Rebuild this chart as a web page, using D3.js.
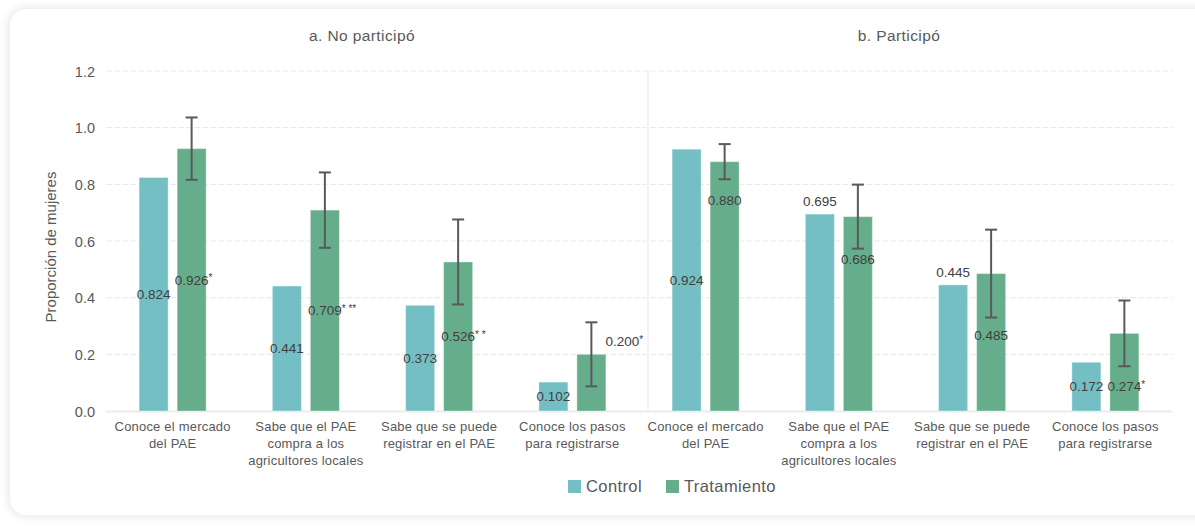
<!DOCTYPE html>
<html lang="es">
<head>
<meta charset="utf-8">
<script src="https://cdn.jsdelivr.net/npm/d3@7/dist/d3.min.js"></script>
<style>
  html, body { margin: 0; padding: 0; background: #ffffff; }
  body { width: 1195px; height: 529px; overflow: hidden; position: relative; }
  .card {
    position: absolute; left: 10px; top: 9px; width: 1205px; height: 506px;
    background: #fff; border-radius: 16px;
    box-shadow: 0 0 10px 2px rgba(0,0,0,0.09);
  }
  svg { position: absolute; left: 0; top: 0; }
  text { font-family: "Liberation Sans", Arial, sans-serif; }
</style>
</head>
<body>
<div class="card"></div>
<svg id="chart" width="1195" height="529"></svg>
<script>
// Panels and categories
const panels = ["a. No participó", "b. Participó"];
const categories = [
  ["Conoce el mercado", "del PAE"],
  ["Sabe que el PAE", "compra a los", "agricultores locales"],
  ["Sabe que se puede", "registrar en el PAE"],
  ["Conoce los pasos", "para registrarse"]
];
const seriesNames = ["Control", "Tratamiento"];

// Proportions per panel (4 categories each)
const controlA = [0.824, 0.441, 0.373, 0.102];
const treatA   = [0.926, 0.709, 0.526, 0.200];
const controlB = [0.924, 0.695, 0.445, 0.172];
const treatB   = [0.880, 0.686, 0.485, 0.274];

// Confidence interval half-widths for treatment
const errA = [0.110, 0.133, 0.150, 0.113];
const errB = [0.062, 0.113, 0.155, 0.116];

// Significance stars for treatment labels
const starsA = ["*", "* **", "* *", "*"];
const starsB = ["", "", "", "*"];

const yTicks = [0, 0.2, 0.4, 0.6, 0.8, 1.0, 1.2];

// Label placement: "mid" = centred in bar, "above" = over bar top,
// "right" = beside the error bar, number = pixel offset below bar top
const labelCtrlA = ["mid", "mid", "mid", "mid"];
const labelTrtA  = ["mid", "mid", "mid", "right"];
const labelCtrlB = ["mid", "above", "above", "mid"];
const labelTrtB  = [39, 43, 62, 53];

const colors = { Control: "#74bfc4", Tratamiento: "#66ae8b" };

const svg = d3.select("#chart");
const plotL = 106, plotR = 1172, plotT = 71, plotB = 411;

const keys = [];
panels.forEach((p, pi) => categories.forEach((c, ci) => keys.push(pi + "-" + ci)));

const x = d3.scaleBand().domain(keys).range([plotL, plotR]).paddingInner(0).paddingOuter(0);
const y = d3.scaleLinear().domain([0, 1.2]).range([plotB, plotT]);

// Gridlines
svg.append("g").selectAll("line").data(yTicks.filter(t => t > 0)).join("line")
  .attr("x1", plotL).attr("x2", plotR)
  .attr("y1", d => y(d)).attr("y2", d => y(d))
  .attr("stroke", "#ebebeb").attr("stroke-width", 1.2)
  .attr("stroke-dasharray", "6,2");

// Panel divider
svg.append("line")
  .attr("x1", x("1-0") + 9).attr("x2", x("1-0") + 9)
  .attr("y1", plotT).attr("y2", plotB)
  .attr("stroke", "#efefef").attr("stroke-width", 1.5);

// Baseline
svg.append("line").attr("x1", plotL).attr("x2", plotR)
  .attr("y1", y(0) + 0.5).attr("y2", y(0) + 0.5)
  .attr("stroke", "#ececec").attr("stroke-width", 2);

// Y axis
const yAxis = svg.append("g").attr("transform", `translate(${plotL - 8},0)`)
  .call(d3.axisLeft(y).tickValues(yTicks).tickFormat(d3.format(".1f")).tickSize(0));
yAxis.select(".domain").remove();
yAxis.selectAll("text")
  .attr("fill", "#595959").attr("font-size", 14.5).attr("dy", "0.35em");

svg.append("text")
  .attr("transform", `translate(56,${(plotT + plotB) / 2 + 6}) rotate(-90)`)
  .attr("text-anchor", "middle").attr("fill", "#595959").attr("font-size", 15)
  .text("Proporción de mujeres");

// Panel titles
const titleX = [362, 899];
panels.forEach((p, pi) => {
  svg.append("text").attr("x", titleX[pi]).attr("y", 41)
    .attr("text-anchor", "middle").attr("fill", "#595959").attr("font-size", 15.5)
    .attr("letter-spacing", 0.4)
    .text(p);
});

// Category labels
keys.forEach((k, i) => {
  const lines = categories[i % 4];
  const t = svg.append("text").attr("x", x(k) + x.bandwidth() / 2).attr("y", 431)
    .attr("text-anchor", "middle").attr("fill", "#595959").attr("font-size", 13)
    .attr("letter-spacing", 0.2);
  lines.forEach((ln, li) => t.append("tspan")
    .attr("x", x(k) + x.bandwidth() / 2).attr("dy", li === 0 ? 0 : 17).text(ln));
});

// Bars
const barW = 29, gap = 9;
const rows = [];
[[controlA, treatA, errA, starsA, labelCtrlA, labelTrtA],
 [controlB, treatB, errB, starsB, labelCtrlB, labelTrtB]].forEach((set, pi) => {
  const [ctrl, trt, err, stars, lc, lt] = set;
  for (let ci = 0; ci < 4; ci++) {
    const k = pi + "-" + ci;
    rows.push({ key: k, series: "Control", value: ctrl[ci], err: null, stars: "", place: lc[ci] });
    rows.push({ key: k, series: "Tratamiento", value: trt[ci], err: err[ci], stars: stars[ci], place: lt[ci] });
  }
});

const cx = d => {
  const c = x(d.key) + x.bandwidth() / 2;
  return d.series === "Control" ? c - gap / 2 - barW / 2 : c + gap / 2 + barW / 2;
};

svg.append("g").selectAll("rect").data(rows).join("rect")
  .attr("x", d => cx(d) - barW / 2).attr("width", barW)
  .attr("y", d => y(d.value)).attr("height", d => y(0) - y(d.value))
  .attr("fill", d => colors[d.series])
  .attr("stroke", "#ffffff").attr("stroke-opacity", 0.35).attr("stroke-width", 1);

// Error bars
const eb = svg.append("g").attr("stroke", "#595959").attr("stroke-width", 2);
rows.filter(d => d.err !== null).forEach(d => {
  const xc = cx(d), y1 = y(d.value + d.err), y2 = y(d.value - d.err);
  eb.append("line").attr("x1", xc).attr("x2", xc).attr("y1", y1).attr("y2", y2);
  eb.append("line").attr("x1", xc - 6).attr("x2", xc + 6).attr("y1", y1).attr("y2", y1);
  eb.append("line").attr("x1", xc - 6).attr("x2", xc + 6).attr("y1", y2).attr("y2", y2);
});

// Value labels
rows.forEach(d => {
  let lx = cx(d), ly;
  if (d.place === "mid") ly = (y(d.value) + y(0)) / 2;
  else if (d.place === "above") ly = y(d.value) - 13;
  else if (d.place === "right") { lx = cx(d) + 31; ly = y(d.value) - 13; }
  else ly = y(d.value) + d.place;
  const t = svg.append("text").attr("x", lx).attr("y", ly).attr("dy", "0.35em")
    .attr("fill", "#404040").attr("font-size", 13.5);
  const num = t.append("tspan").text(d3.format(".3f")(d.value));
  if (d.stars) {
    t.append("tspan").attr("font-size", 10).attr("dy", "-0.35em").text(d.stars);
  }
  // keep the number centred on the bar, stars hang to the right
  const w = num.node().getComputedTextLength();
  t.attr("x", lx - w / 2);
});

// Legend
const legend = svg.append("g");
const legX = [568, 666];
seriesNames.forEach((s, i) => {
  legend.append("rect").attr("x", legX[i]).attr("y", 480).attr("width", 13).attr("height", 13)
    .attr("fill", colors[s]);
  legend.append("text").attr("x", legX[i] + 18).attr("y", 492)
    .attr("fill", "#595959").attr("font-size", 16.5).attr("letter-spacing", 0.4).text(s);
});
</script>
</body>
</html>
